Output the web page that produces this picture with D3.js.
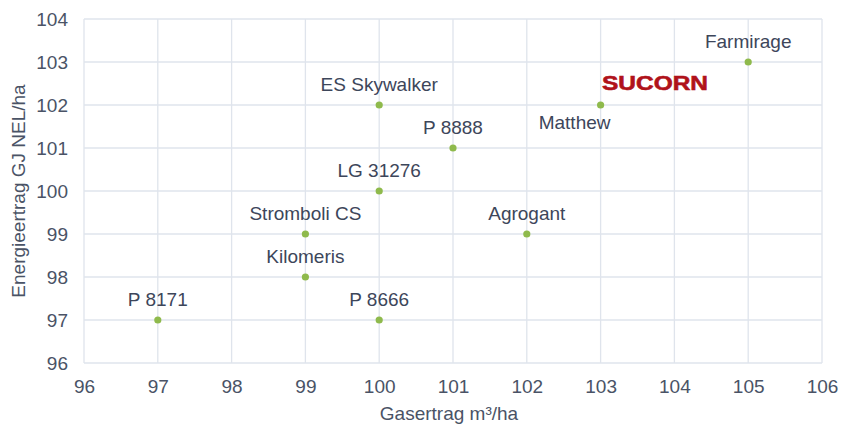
<!DOCTYPE html>
<html><head><meta charset="utf-8">
<script src="https://cdn.jsdelivr.net/npm/d3@7"></script>
<style>body{margin:0;background:#fff;}svg{display:block;font-family:"Liberation Sans",Arial,sans-serif;}</style>
</head><body>
<svg id="c" width="841" height="428"></svg>
<script>
const varieties = ["P 8171","Kilomeris","Stromboli CS","P 8666","LG 31276","ES Skywalker","P 8888","Agrogant","Matthew","Farmirage"];
const gasYield = [97,99,99,100,100,100,101,102,103,105];
const energyYield = [97,98,99,97,100,102,101,99,102,103];
const xTicks = [96,97,98,99,100,101,102,103,104,105,106];
const yTicks = [96,97,98,99,100,101,102,103,104];
// label placement styling (pixel offsets relative to point)
const labelDx = [0,0,0,0,0,0,0,0,-26,0];
const labelDy = [-21,-21,-21,-21,-21,-21,-21,-21,17,-21];

const svg = d3.select("#c");
const m = {l:84, r:19, t:19, b:65};
const W = 841, H = 428;
const x = d3.scaleLinear().domain([96,106]).range([m.l, W-m.r]);
const y = d3.scaleLinear().domain([96,104]).range([H-m.b, m.t]);

const grid = "#dfe4ec";
svg.append("g").selectAll("line").data(xTicks).join("line")
  .attr("x1",d=>x(d)).attr("x2",d=>x(d)).attr("y1",y(96)).attr("y2",y(104))
  .attr("stroke",grid).attr("stroke-width",1.3);
svg.append("g").selectAll("line").data(yTicks).join("line")
  .attr("y1",d=>y(d)).attr("y2",d=>y(d)).attr("x1",x(96)).attr("x2",x(106))
  .attr("stroke",grid).attr("stroke-width",1.3);

const tickColor = "#4a5366";
const fs = "19px";
const xa = svg.append("g").attr("transform",`translate(0,${y(96)})`)
  .call(d3.axisBottom(x).tickValues(xTicks).tickSize(0).tickPadding(17).tickFormat(d3.format("d")));
xa.select(".domain").remove();
xa.selectAll("text").attr("fill",tickColor).style("font-size",fs);
const ya = svg.append("g").attr("transform",`translate(${x(96)},0)`)
  .call(d3.axisLeft(y).tickValues(yTicks).tickSize(0).tickPadding(16).tickFormat(d3.format("d")));
ya.select(".domain").remove();
ya.selectAll("text").attr("fill",tickColor).style("font-size",fs);

svg.append("text").attr("x",449).attr("y",420)
  .attr("text-anchor","middle").attr("fill",tickColor).style("font-size",fs).text("Gasertrag m³/ha");
svg.append("text").attr("transform",`translate(25,${(y(96)+y(104))/2}) rotate(-90)`)
  .attr("text-anchor","middle").attr("fill",tickColor).style("font-size",fs).text("Energieertrag GJ NEL/ha");

const idx = d3.range(varieties.length);
svg.append("g").selectAll("circle").data(idx).join("circle")
  .attr("cx",i=>x(gasYield[i])).attr("cy",i=>y(energyYield[i])).attr("r",3.6).attr("fill","#8fba4c");
svg.append("g").selectAll("text").data(idx).join("text")
  .attr("x",i=>x(gasYield[i])+labelDx[i]).attr("y",i=>y(energyYield[i])+labelDy[i])
  .attr("dy","0.35em").attr("text-anchor","middle").attr("fill","#3d465a").style("font-size",fs)
  .text(i=>varieties[i]);

svg.append("text").attr("x",602).attr("y",83).attr("dy","0.35em")
  .attr("fill","#b0121a").attr("stroke","#b0121a").attr("stroke-width",0.6)
  .style("font-size","21px").style("font-weight","bold")
  .attr("textLength",106).attr("lengthAdjust","spacingAndGlyphs").text("SUCORN");
</script>
</body></html>
